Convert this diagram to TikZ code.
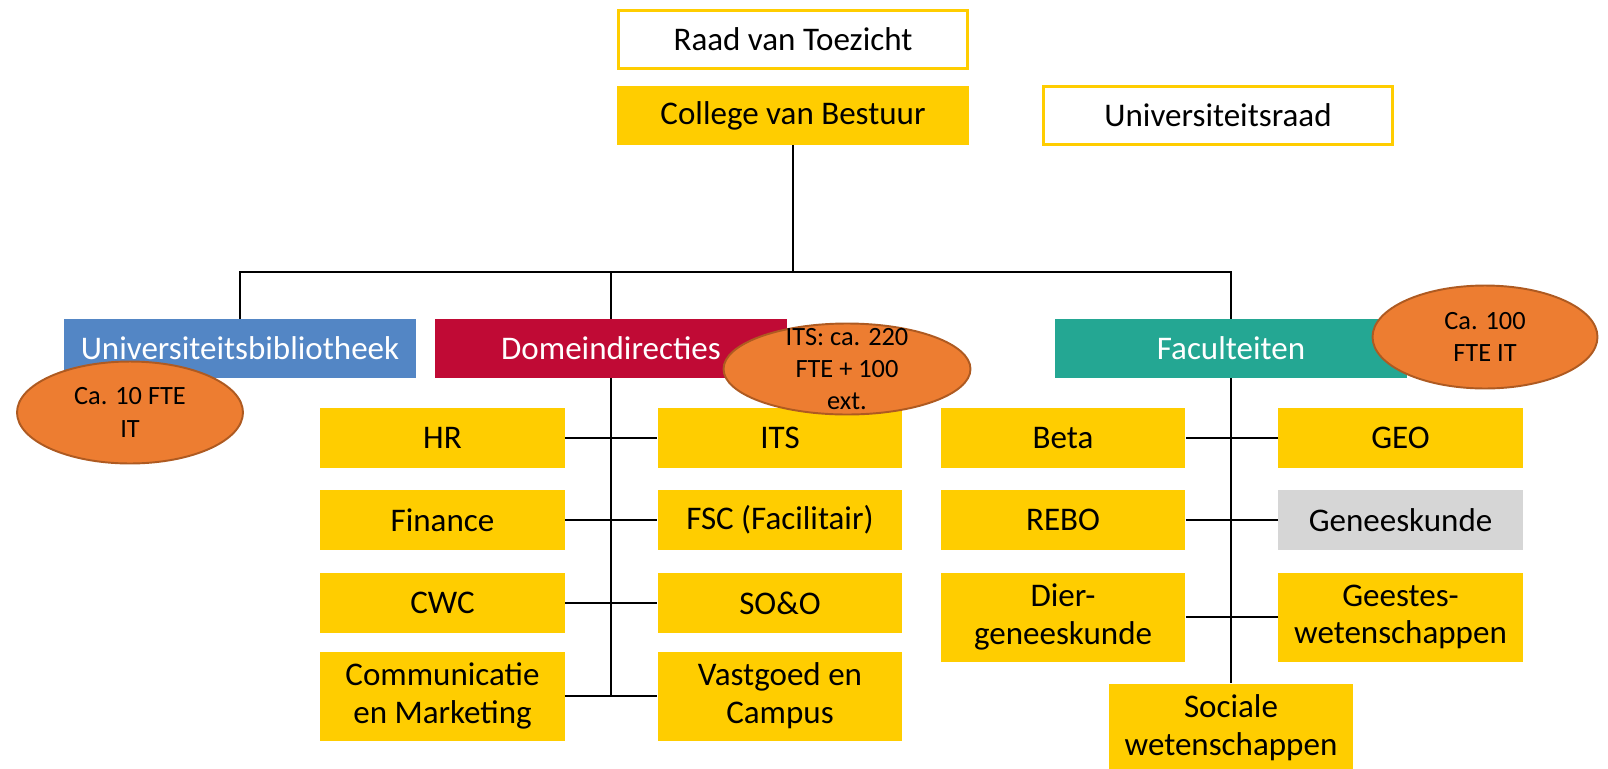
\documentclass[tikz,border=0pt]{standalone}
\usepackage{fontspec}
\setmainfont{Carlito}
\usepackage{xcolor}
\usetikzlibrary{shapes.geometric}
\definecolor{uuyellow}{HTML}{FFCD00}
\definecolor{uublue}{HTML}{5386C5}
\definecolor{uured}{HTML}{C00A35}
\definecolor{uugreen}{HTML}{24A793}
\definecolor{uugrey}{HTML}{D6D6D6}
\definecolor{fteorange}{HTML}{ED7D31}
\definecolor{fteedge}{HTML}{AE5A21}
\tikzset{
  unit/.style={fill=uuyellow, minimum width=4.9cm, minimum height=1.2cm, inner sep=0pt,
    align=center, font=\fontsize{18.8}{21.5}\selectfont},
  tallunit/.style={unit, minimum height=1.78cm},
  board/.style={unit, fill=white, draw=uuyellow, line width=1.7pt,
    minimum width=7.0cm, minimum height=1.16cm},
  head/.style={unit, text=white, minimum width=7.04cm, minimum height=1.18cm},
  fte/.style={ellipse, fill=fteorange, draw=fteedge, line width=1.1pt, inner sep=0pt},
  ftetext/.style={align=center, font=\fontsize{15}{18.3}\selectfont},
  link/.style={line width=0.8pt},
}
\begin{document}
\begin{tikzpicture}[x=0.02cm, y=-0.02cm]
\useasboundingbox (0,0) rectangle (1608,768);
\node[board] (rvt) at (793,39.5) {Raad van Toezicht};
\node[unit, minimum width=7.06cm, minimum height=1.18cm] (cvb) at (793,115.5) {College van Bestuur};
\node[board] (ur) at (1218,115.5) {Universiteitsraad};

\node[head, fill=uublue] (ub) at (240,348.5) {Universiteitsbibliotheek};
\node[head, fill=uured] (dd) at (611,348.5) {Domeindirecties};
\node[head, fill=uugreen] (fac) at (1231,348.5) {Faculteiten};

\node[unit] (hr) at (442.5,438) {HR};
\node[unit] (its) at (780,438) {ITS};
\node[unit] (fin) at (442.5,520) {Finance};
\node[unit] (fsc) at (780,520) {FSC (Facilitair)};
\node[unit] (cwc) at (442.5,603) {CWC};
\node[unit] (soo) at (780,603) {SO\&O};
\node[tallunit] (comm) at (442.5,696) {Communicatie\\en Marketing};
\node[tallunit] (vgc) at (780,696) {Vastgoed en\\Campus};

\node[unit] (beta) at (1063,438) {Beta};
\node[unit] (geo) at (1400.5,438) {GEO};
\node[unit] (rebo) at (1063,520) {REBO};
\node[unit, fill=uugrey] (gen) at (1400.5,520) {Geneeskunde};
\node[tallunit] (dgk) at (1063,617) {Dier-\\geneeskunde};
\node[tallunit] (gw) at (1400.5,617) {Geestes-\\wetenschappen};
\node[tallunit] (sw) at (1231,728) {Sociale\\wetenschappen};

\coordinate (bus) at (793,272);
\draw[link] (cvb.south) -- (bus);
\draw[link, line width=1.2pt] (ub.north) -- (ub.north |- bus) -- (fac.north |- bus) -- (fac.north);
\draw[link] (dd.north) -- (dd.north |- bus);

\draw[link] (dd.south) -- (dd.south |- comm.east);
\draw[link] (hr.east) -- (its.west);
\draw[link] (fin.east) -- (fsc.west);
\draw[link] (cwc.east) -- (soo.west);
\draw[link] (comm.east) -- (vgc.west);

\draw[link] (fac.south) -- (sw.north);
\draw[link] (beta.east) -- (geo.west);
\draw[link] (rebo.east) -- (gen.west);
\draw[link] (dgk.east) -- (gw.west);

\node[fte, minimum width=4.52cm, minimum height=2.04cm,
  label={[ftetext]center:Ca. 10 FTE\\IT}] (ubfte) at (130,412.5) {};
\node[fte, minimum width=4.94cm, minimum height=1.82cm,
  label={[ftetext]center:ITS: ca. 220\\FTE + 100\\ext.}] (itsfte) at (847,369) {};
\node[fte, minimum width=4.5cm, minimum height=2.06cm,
  label={[ftetext]center:Ca. 100\\FTE IT}] (facfte) at (1485,337) {};
\end{tikzpicture}
\end{document}
